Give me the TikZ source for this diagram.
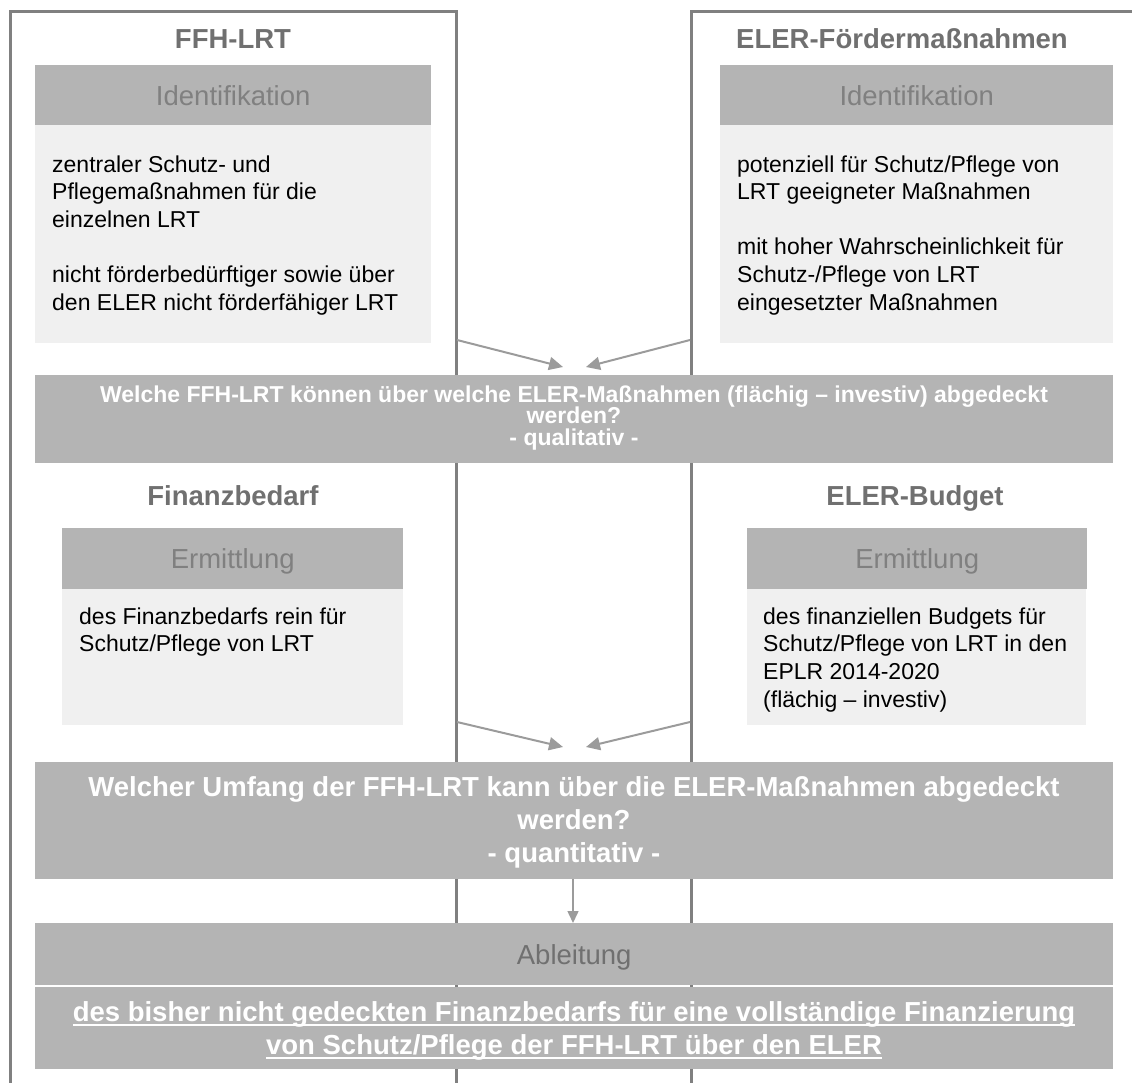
\documentclass[tikz,border=0pt]{standalone}
\usepackage{fontspec}
\setmainfont{Liberation Sans}
\usetikzlibrary{arrows.meta}
\definecolor{framecol}{RGB}{128,128,128}
\definecolor{hdrfill}{RGB}{180,180,180}
\definecolor{bodyfill}{RGB}{240,240,240}
\definecolor{titlecol}{RGB}{112,112,112}
\definecolor{hdrtext}{RGB}{128,128,128}
\definecolor{arrcol}{RGB}{155,155,155}
\newcommand\firstline[1]{\rule{0pt}{#1}}
\newcommand\tightls{\lineskiplimit=-100pt\relax}
\newcommand\ulw[1]{\setbox0=\hbox{#1}\rlap{\rule[-4.5pt]{\wd0}{2pt}}\box0}
\tikzset{
  framestyle/.style={draw=framecol, line width=3pt},
  hdr/.style={fill=hdrfill, inner sep=0pt, anchor=north west, text=hdrtext,
    font=\fontsize{27.5}{33}\selectfont, text height=20pt, text depth=0pt},
  bodybox/.style={fill=bodyfill, inner sep=0pt, anchor=north west},
  qbox/.style={fill=hdrfill, inner sep=0pt, anchor=north west},
  titletxt/.style={text=titlecol, font=\bfseries\fontsize{27.5}{33}\selectfont, inner sep=0pt, anchor=base},
  bodytxt/.style={align=left, inner sep=0pt, anchor=north west, font=\fontsize{23}{27.6}\selectfont},
  qtxt/.style={align=center, inner sep=0pt, anchor=north, text=white},
  arr/.style={draw=arrcol, line width=2pt, -{Triangle[length=14pt,width=13pt]}},
}
\begin{document}
\begin{tikzpicture}[x=1pt,y=-1pt]
\useasboundingbox (0,0) rectangle (1132,1083);
% frames
\draw[framestyle] (10,1083) -- (10,12) -- (456,12) -- (456,1083);
\draw[framestyle] (691,1083) -- (691,12) -- (1132,12);

% titles
\node[titletxt] (t1) at (233,49) {FFH-LRT};
\node[titletxt] (t2) at (902,49) {ELER-Fördermaßnahmen};
\node[titletxt] (t3) at (233,505) {Finanzbedarf};
\node[titletxt] (t4) at (915,505) {ELER-Budget};

% top section
\node[hdr, minimum width=396pt, minimum height=60pt] (h1) at (35,65) {Identifikation};
\node[bodybox, minimum width=396pt, minimum height=218pt] (b1) at (35,125) {};
\node[hdr, minimum width=393pt, minimum height=60pt] (h2) at (720,65) {Identifikation};
\node[bodybox, minimum width=393pt, minimum height=218pt] (b2) at (720,125) {};
\node[bodytxt] (bt1) at (52,149) {\firstline{23pt}zentraler Schutz- und\\Pflegemaßnahmen für die\\einzelnen LRT\\[27.6pt]nicht förderbedürftiger sowie über\\den ELER nicht förderfähiger LRT};
\node[bodytxt] (bt2) at (737,149) {\firstline{23pt}potenziell für Schutz/Pflege von\\LRT geeigneter Maßnahmen\\[27.6pt]mit hoher Wahrscheinlichkeit für\\Schutz-/Pflege von LRT\\eingesetzter Maßnahmen};

% arrows to question 1
\coordinate (a1s) at (457,340);
\coordinate (a1e) at (563,367);
\coordinate (a2s) at (690,340);
\coordinate (a2e) at (586,367);
\draw[arr] (a1s) -- (a1e);
\draw[arr] (a2s) -- (a2e);

% question 1
\node[qbox, minimum width=1078pt, minimum height=88pt] (q1) at (35,375) {};
\node[qtxt, font=\bfseries\fontsize{23}{21.5}\selectfont\tightls] (q1t) at (574,384) {\firstline{18pt}Welche FFH-LRT können über welche ELER-Maßnahmen (flächig – investiv) abgedeckt\\werden?\\- qualitativ -};

% middle section
\node[hdr, minimum width=341pt, minimum height=61pt] (h3) at (62,528) {Ermittlung};
\node[bodybox, minimum width=341pt, minimum height=136pt] (b3) at (62,589) {};
\node[hdr, minimum width=340pt, minimum height=61pt] (h4) at (747,528) {Ermittlung};
\node[bodybox, minimum width=339pt, minimum height=136pt] (b4) at (747,589) {};
\node[bodytxt] (bt3) at (79,601) {\firstline{23pt}des Finanzbedarfs rein für\\Schutz/Pflege von LRT};
\node[bodytxt] (bt4) at (763,601) {\firstline{23pt}des finanziellen Budgets für\\Schutz/Pflege von LRT in den\\EPLR 2014-2020\\(flächig – investiv)};

% arrows to question 2
\coordinate (a3s) at (457,722);
\coordinate (a3e) at (563,747);
\coordinate (a4s) at (690,722);
\coordinate (a4e) at (586,747);
\draw[arr] (a3s) -- (a3e);
\draw[arr] (a4s) -- (a4e);

% question 2
\node[qbox, minimum width=1078pt, minimum height=117pt] (q2) at (35,762) {};
\node[qtxt, font=\bfseries\fontsize{27.5}{33}\selectfont] (q2t) at (574,774) {\firstline{22pt}Welcher Umfang der FFH-LRT kann über die ELER-Maßnahmen abgedeckt\\werden?\\- quantitativ -};

% Ableitung
\node[hdr, minimum width=1078pt, minimum height=62pt, text=titlecol] (h5) at (35,923) {Ableitung};
\node[qbox, minimum width=1078pt, minimum height=82pt] (b5) at (35,987) {};
\node[qtxt, font=\bfseries\fontsize{27.5}{33}\selectfont] (b5t) at (574,999) {\firstline{22pt}\ulw{des bisher nicht gedeckten Finanzbedarfs für eine vollständige Finanzierung}\\\ulw{von Schutz/Pflege der FFH-LRT über den ELER}};

\coordinate (dx) at (573,0);
\draw[draw=arrcol, line width=1.5pt, -{Triangle[length=12pt,width=11pt]}] (q2.south -| dx) -- (h5.north -| dx);
\end{tikzpicture}
\end{document}
